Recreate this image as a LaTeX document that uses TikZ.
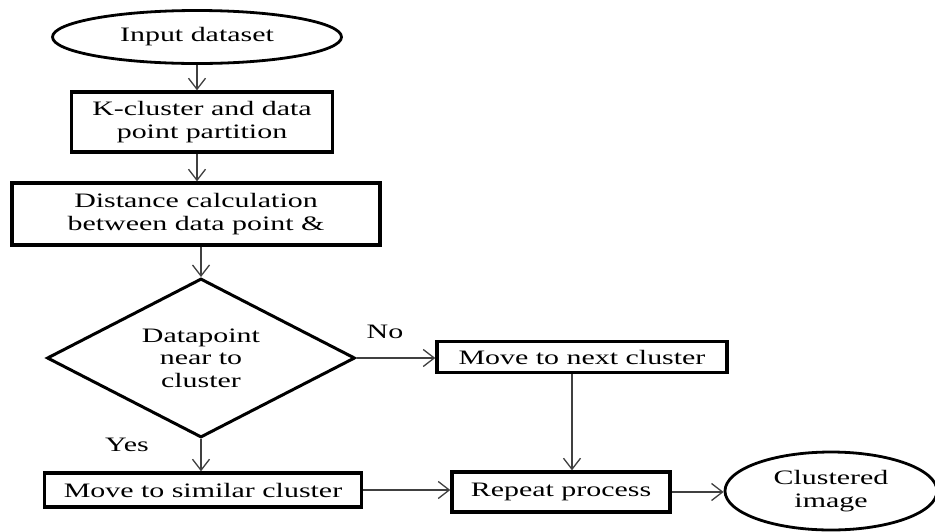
\documentclass[tikz,border=0pt]{standalone}
\usepackage{fontspec}
\setmainfont{Liberation Serif}[FakeStretch=1.46]
\usetikzlibrary{shapes.geometric,arrows.meta}
\begin{document}
\begin{tikzpicture}[x=1pt,y=-1pt,
  every node/.style={font=\fontsize{20.5}{22.5}\selectfont, text=black, inner sep=0pt},
  box/.style={draw, line width=3.4pt, rectangle, align=center},
  term/.style={draw, line width=2.8pt, ellipse, align=center},
  dec/.style={draw, line width=3pt, diamond, align=center},
  arr/.style={draw=black!75, line width=1.3pt, -{Straight Barb[length=11pt,width=17pt,line width=1.3pt]}}]
\fill[white] (0,0) rectangle (935,531);
\useasboundingbox (0,0) rectangle (935,531);
\node[term, minimum width=289pt, minimum height=53pt] (in) at (197,37) {Input dataset};
\node[box, minimum width=261pt, minimum height=60pt] (kc) at (202,122) {K-cluster and data\\point partition};
\node[box, minimum width=368pt, minimum height=62pt] (dist) at (196,214) {Distance calculation\\between data point \&};
\node[dec, minimum width=308pt, minimum height=159pt, aspect=1.94] (dia) at (201,358) {Datapoint\\near to\\cluster};
\node[box, minimum width=290pt, minimum height=31pt] (next) at (582,357) {Move to next cluster};
\node[box, minimum width=317pt, minimum height=34pt] (sim) at (203,490) {Move to similar cluster};
\node[box, minimum width=218pt, minimum height=40pt] (rep) at (561,492) {Repeat process};
\node[term, minimum width=212pt, minimum height=78pt] (out) at (831,491) {Clustered\\image};
\node (no) at (385,332) {No};
\node (yes) at (127,445) {Yes};
\draw[arr] (in.south) -- (in.south |- kc.north);
\draw[arr] (in.south |- kc.south) -- (in.south |- dist.north);
\draw[arr] (dia.north |- dist.south) -- (dia.north);
\draw[arr] (dia.east) -- (dia.east -| next.west);
\draw[arr] (dia.south) -- (dia.south |- sim.north);
\draw[arr] (sim.east) -- (sim.east -| rep.west);
\draw[arr] ([xshift=-10pt]next.south) -- ([xshift=-10pt]next.south |- rep.north);
\draw[arr] (rep.east) -- (rep.east -| out.west);
\end{tikzpicture}
\end{document}
